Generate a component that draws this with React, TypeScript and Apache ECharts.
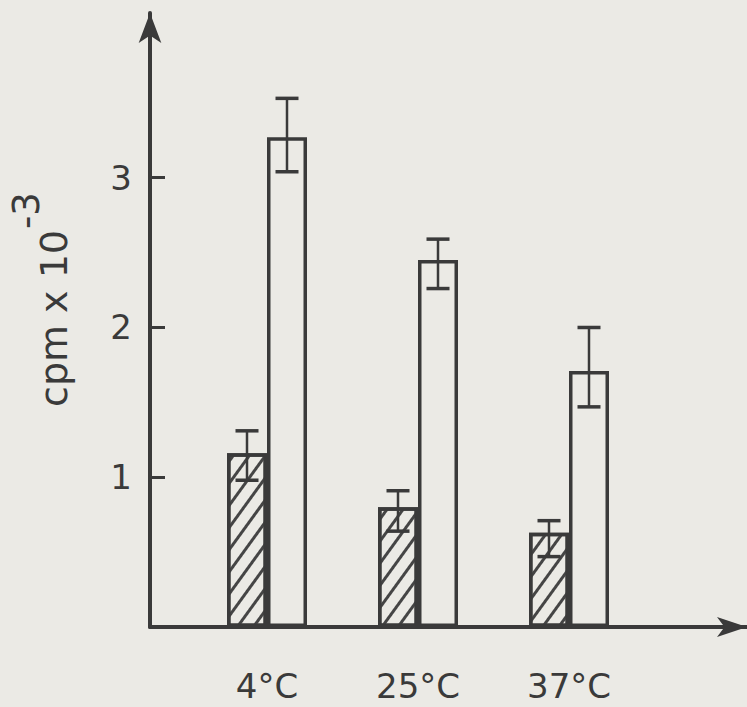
import React, { useEffect, useRef } from "react";
import * as echarts from "echarts";

const categories = ["4°C", "25°C", "37°C"];
const hatchedValues = [1.16, 0.8, 0.63];
const hatchedLow = [0.98, 0.64, 0.47];
const hatchedHigh = [1.31, 0.91, 0.71];
const openValues = [3.27, 2.45, 1.71];
const openLow = [3.04, 2.26, 1.47];
const openHigh = [3.53, 2.59, 2.0];
const yTicks = [1, 2, 3];
const yName = "cpm x 10";
const yNameSup = "-3";

const INK = "#3a3a3a";
const PAPER = "#ebeae5";
const FONT = '"DejaVu Sans", sans-serif';
const BAR_W = 40;

function errorSeries(low: number[], high: number[], offset: number) {
  return {
    type: "custom",
    xAxisIndex: 1,
    yAxisIndex: 1,
    z: 5,
    encode: { x: 0, y: [1, 2] },
    data: low.map((l, i) => [i, l, high[i]]),
    renderItem: (params: any, api: any) => {
      const cat = api.value(0);
      const pLo = api.coord([cat, api.value(1)]);
      const pHi = api.coord([cat, api.value(2)]);
      const x = pLo[0] + offset;
      const cap = 11.5;
      return {
        type: "group",
        children: [
          { type: "line", shape: { x1: x, y1: pHi[1], x2: x, y2: pLo[1] }, style: { stroke: INK, lineWidth: 2.5 } },
          { type: "line", shape: { x1: x - cap, y1: pHi[1], x2: x + cap, y2: pHi[1] }, style: { stroke: INK, lineWidth: 3.5 } },
          { type: "line", shape: { x1: x - cap, y1: pLo[1], x2: x + cap, y2: pLo[1] }, style: { stroke: INK, lineWidth: 3.5 } },
        ],
      };
    },
  };
}

export default function App() {
  const ref = useRef<HTMLDivElement>(null);
  useEffect(() => {
    document.body.style.margin = "0";
    const chart = echarts.init(ref.current!, undefined, { renderer: "svg" });
    const option: any = {
      animation: false,
      backgroundColor: PAPER,
      grid: [
        { left: 150, right: 0, top: 13, bottom: 80 },
        { left: 191.5, width: 453, top: 13, bottom: 80 },
      ],
      xAxis: [
        {
          type: "value",
          gridIndex: 0,
          min: 0,
          max: 1,
          axisLine: { show: true, symbol: ["none", "arrow"], symbolSize: [15, 30], lineStyle: { color: INK, width: 4 } },
          axisTick: { show: false },
          axisLabel: { show: false },
          splitLine: { show: false },
        },
        {
          type: "category",
          gridIndex: 1,
          data: categories,
          axisLine: { show: false },
          axisTick: { show: false },
          axisLabel: { color: INK, fontSize: 34, lineHeight: 32, fontFamily: FONT, margin: 43 },
        },
      ],
      yAxis: [
        {
          type: "value",
          gridIndex: 0,
          min: 0,
          max: 4.1,
          interval: 1,
          axisLine: { show: true, symbol: ["none", "arrow"], symbolSize: [17, 30], lineStyle: { color: INK, width: 4 } },
          axisTick: { show: true, inside: true, length: 15, customValues: yTicks, lineStyle: { color: INK, width: 3 } },
          axisLabel: { color: INK, fontSize: 34, fontFamily: FONT, margin: 18, customValues: yTicks },
          splitLine: { show: false },
        },
        { type: "value", gridIndex: 1, min: 0, max: 4.1, show: false },
      ],
      series: [
        {
          type: "bar",
          xAxisIndex: 1,
          yAxisIndex: 1,
          data: hatchedValues,
          barWidth: BAR_W,
          barGap: "0%",
          itemStyle: {
            color: PAPER,
            borderColor: INK,
            borderWidth: 3.5,
            decal: {
              symbol: "rect",
              color: "#454545",
              dashArrayX: [1, 0],
              dashArrayY: [2.2, 9.5],
              rotation: (-54 * Math.PI) / 180,
            },
          },
        },
        {
          type: "bar",
          xAxisIndex: 1,
          yAxisIndex: 1,
          data: openValues,
          barWidth: BAR_W,
          barGap: "0%",
          itemStyle: { color: PAPER, borderColor: INK, borderWidth: 3.5 },
        },
        errorSeries(hatchedLow, hatchedHigh, -BAR_W / 2),
        errorSeries(openLow, openHigh, BAR_W / 2),
      ],
      graphic: [
        {
          type: "text",
          x: 54,
          y: 407,
          rotation: Math.PI / 2,
          style: { text: yName, font: `38px ${FONT}`, fill: INK, align: "left", verticalAlign: "middle" },
        },
        {
          type: "text",
          x: 26,
          y: 229,
          rotation: Math.PI / 2,
          style: { text: yNameSup, font: `37px ${FONT}`, fill: INK, align: "left", verticalAlign: "middle" },
        },
      ],
    };
    chart.setOption(option);
    return () => chart.dispose();
  }, []);
  return (
    <div style={{ position: "fixed", left: 0, top: 0, width: 747, height: 707, background: PAPER }}>
      <div ref={ref} style={{ width: 747, height: 707 }} />
    </div>
  );
}
